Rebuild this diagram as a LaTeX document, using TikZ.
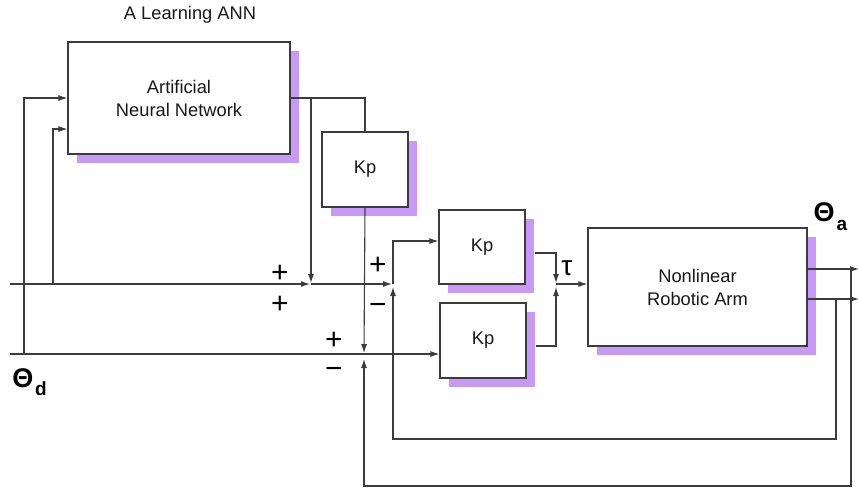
\documentclass[tikz,border=0pt]{standalone}
\usepackage{fontspec}
\setmainfont{Liberation Sans}
\usetikzlibrary{arrows.meta,shadows,calc}
\definecolor{shad}{RGB}{201,153,248}
\definecolor{ln}{RGB}{60,60,60}
\definecolor{txt}{RGB}{25,25,25}
\begin{document}
\begin{tikzpicture}[x=1pt,y=-1pt,
  blk/.style={draw=ln, fill=white, line width=1.1pt, inner sep=0pt, text=txt,
    font=\fontsize{18.3}{23}\selectfont, align=center,
    general shadow={fill=shad, shadow xshift=9pt, shadow yshift=-9pt}},
  wire/.style={draw=ln, line width=1.1pt},
  arr/.style={wire, -{Latex[length=9pt,width=6pt]}},
  sgn/.style={font=\fontsize{30}{30}\selectfont, inner sep=0pt, text=black,
    text height=0.6em, text depth=-0.11em},
  lbl/.style={font=\fontsize{18.3}{23}\selectfont, inner sep=0pt, text=txt},
]
\useasboundingbox (0,0) rectangle (859,491);

% blocks
\node[blk, minimum width=222pt, minimum height=112pt] (ann) at (179,98) {Artificial\\Neural Network};
\node[blk, minimum width=86pt, minimum height=75pt] (kp1) at (365,169.5) {Kp};
\node[blk, minimum width=86pt, minimum height=74pt] (kp2) at (482,247) {Kp};
\node[blk, minimum width=86pt, minimum height=75pt] (kp3) at (483,340.5) {Kp};
\node[blk, minimum width=219pt, minimum height=118pt] (arm) at (697.5,287) {Nonlinear\\Robotic Arm};

% junctions and free ends
\coordinate (s1) at (311,284);
\coordinate (s2) at (393,284);
\coordinate (s3) at (364,354);
\coordinate (s4) at (556,284);
\coordinate (inT) at (10,284);
\coordinate (inD) at (10,354);
\coordinate (a1) at (24,354);
\coordinate (a2) at (53,284);
\coordinate (y1) at (807,269);
\coordinate (y2) at (807,299);
\coordinate (e1) at (859,269);
\coordinate (e2) at (859,299);
\coordinate (f1) at (851,269);
\coordinate (f2) at (836,299);

% wires
\draw[arr] (inT) -- ($(s1)+(-1,0)$);
\draw[arr] (s1) -- ($(s2)+(-1,0)$);
\draw[wire] (ann.east) -| (kp1.north);
\draw[arr] (s1 |- ann.east) -- ($(s1)+(0,-1)$);
\draw[arr] (kp1.south) -- ($(s3)+(0,-1)$);
\draw[arr] (inD) -- (inD -| kp3.west);
\draw[arr] (a1) |- (ann.west);
\draw[arr] (a2) |- ($(ann.west)+(0,31)$);
\draw[arr] (y1) -- (e1);
\draw[arr] (y2) -- (e2);
\draw[arr] (f2) -- (836,439) -| ($(s2)+(0,3)$);
\draw[arr] (s2) |- ($(kp2.west)+(0,-6)$);
\draw[arr] (f1) -- (851,486) -| ($(s3)+(0,5)$);
\draw[arr] ($(kp2.east)+(9,6)$) -| ($(s4)+(0,-1)$);
\draw[arr] ($(kp3.east)+(9,5.5)$) -| ($(s4)+(0,3)$);
\draw[arr] (s4) -- (arm.west |- s4);

% labels
\node[lbl] (title) at (190,15) {A Learning ANN};
\node[font=\fontsize{28}{28}\selectfont, inner sep=0pt, text=black] (tau) at (567,268) {τ};
\node[font=\fontsize{27}{27}\selectfont\bfseries, inner sep=0pt, text=black] (thd) at (23,378) {Θ};
\node[font=\fontsize{19}{19}\selectfont\bfseries, inner sep=0pt, text=black] (thds) at (41,389) {d};
\node[font=\fontsize{27}{27}\selectfont\bfseries, inner sep=0pt, text=black] (tha) at (824,212) {Θ};
\node[font=\fontsize{19}{19}\selectfont\bfseries, inner sep=0pt, text=black] (thas) at (842,225) {a};

\node[sgn] (p1) at (280,279) {+};
\node[sgn] (p2) at (280,310) {+};
\node[sgn] (p3) at (378,271) {+};
\node[sgn] (m1) at (378,311) {−};
\node[sgn] (p4) at (334,346) {+};
\node[sgn] (m2) at (334,375) {−};
\end{tikzpicture}
\end{document}
